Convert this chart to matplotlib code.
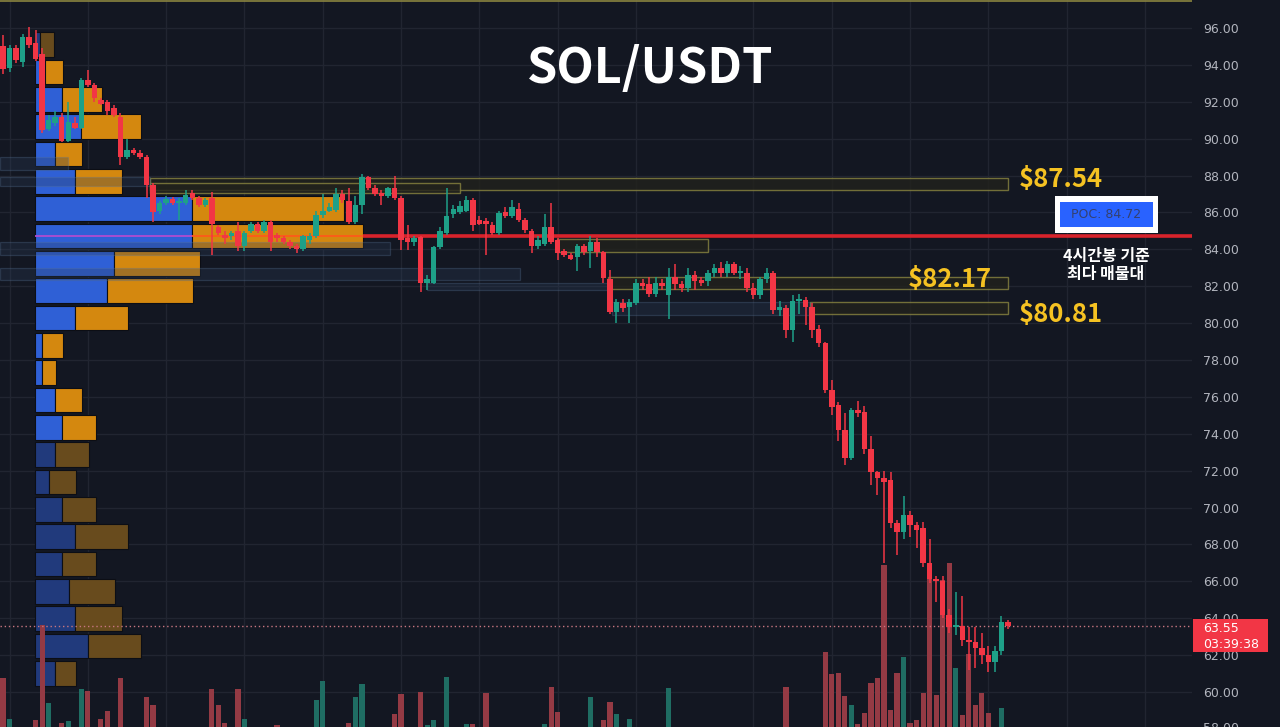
import numpy as np
import matplotlib
matplotlib.use("Agg")
import matplotlib.pyplot as plt
from matplotlib.patches import Rectangle

# ---------------- data ----------------
opens = [95.0, 93.83, 94.9, 94.15, 95.5, 95.2, 94.6, 90.5, 90.85, 91.2,
         89.9, 90.85, 90.6, 93.2, 92.9, 92.1, 92.0, 91.66, 91.2, 89.0,
         89.4, 89.2, 89.0, 87.5, 86.1, 86.5, 86.75, 86.5, 86.5, 87.05,
         86.8, 86.4, 86.8, 85.2, 84.8, 84.7, 85.0, 84.2, 85.0, 85.35,
         85.0, 85.5, 84.8, 84.6, 84.4, 84.2, 84.0, 84.5, 84.7, 85.85,
         86.1, 86.15, 87.0, 86.6, 85.5, 86.4, 87.9, 87.3, 87.05, 86.9,
         87.3, 86.8, 84.6, 84.4, 84.67, 82.2, 82.2, 84.1, 84.9, 85.9,
         86.0, 86.1, 86.7, 85.6, 85.5, 85.3, 84.9, 86.0, 85.8, 86.2,
         85.6, 85.0, 84.2, 84.3, 85.2, 84.5, 83.9, 83.7, 83.6, 84.2,
         83.9, 84.4, 83.85, 82.4, 80.6, 81.1, 80.85, 81.1, 82.2, 82.1,
         81.6, 82.2, 81.5, 82.5, 82.1, 81.9, 82.6, 82.3, 82.3, 82.7,
         83.0, 82.7, 83.2, 82.7, 82.7, 81.9, 81.5, 82.4, 82.7, 80.7,
         80.8, 79.6, 81.2, 81.25, 80.9, 79.7, 78.9, 76.4, 75.55, 74.2,
         72.7, 75.3, 75.2, 73.2, 71.9, 71.6, 71.5, 69.15, 68.7, 69.6,
         69.05, 68.9, 67.0, 66.1, 66.0, 64.2, 63.5, 63.6, 62.8, 62.7,
         62.4, 62.0, 61.6, 62.2, 63.8]
highs = [95.6, 95.1, 95.1, 95.7, 96.05, 95.9, 94.9, 91.3, 91.5, 91.4,
         92.0, 91.2, 93.3, 93.7, 93.0, 92.2, 92.1, 91.8, 91.4, 90.0,
         89.5, 89.4, 89.1, 87.6, 86.6, 86.9, 86.85, 86.8, 87.2, 87.2,
         86.9, 86.8, 87.1, 85.3, 85.0, 85.0, 85.5, 85.0, 85.5, 85.5,
         85.6, 85.6, 84.9, 84.7, 84.5, 84.3, 84.8, 84.9, 86.1, 87.0,
         86.5, 87.3, 87.2, 87.3, 86.9, 88.1, 88.0, 87.5, 87.2, 87.4,
         88.0, 86.9, 85.3, 84.7, 84.7, 82.6, 84.2, 85.2, 87.3, 86.4,
         86.6, 86.9, 86.8, 85.8, 85.7, 85.5, 86.1, 86.3, 86.7, 86.5,
         85.7, 85.1, 84.7, 85.9, 86.5, 84.6, 84.0, 83.8, 84.3, 84.3,
         84.7, 84.6, 83.9, 82.9, 81.3, 81.3, 81.3, 82.4, 82.4, 82.5,
         82.5, 82.4, 83.0, 83.2, 82.3, 83.0, 82.8, 82.5, 82.9, 83.2,
         83.3, 83.35, 83.3, 83.1, 83.0, 82.2, 82.5, 83.0, 82.8, 81.2,
         81.0, 81.5, 81.6, 81.4, 81.1, 79.9, 79.0, 76.9, 75.7, 75.1,
         75.4, 75.8, 75.5, 73.9, 72.0, 72.0, 71.9, 69.3, 70.6, 69.8,
         69.2, 69.2, 68.3, 66.3, 66.3, 64.5, 65.4, 65.2, 63.5, 63.5,
         63.2, 62.5, 62.5, 64.1, 63.9]
lows = [93.5, 93.6, 94.1, 93.9, 94.9, 94.2, 90.3, 90.4, 90.7, 89.8,
        89.8, 90.5, 90.5, 92.8, 92.0, 91.8, 91.3, 91.2, 88.6, 88.9,
        89.1, 88.9, 86.8, 85.5, 85.9, 86.4, 86.4, 85.6, 86.4, 86.7,
        86.3, 86.3, 83.7, 84.8, 84.3, 84.5, 83.9, 83.9, 84.9, 84.9,
        84.9, 83.9, 84.4, 84.3, 84.0, 83.8, 83.9, 84.3, 84.6, 85.7,
        86.0, 86.0, 86.5, 85.4, 85.4, 85.9, 87.2, 86.9, 86.4, 86.8,
        86.7, 83.96, 83.96, 84.2, 81.7, 81.8, 82.1, 84.0, 84.8, 85.7,
        85.9, 86.0, 85.0, 85.3, 83.7, 84.8, 84.8, 85.7, 85.7, 85.5,
        84.9, 83.8, 84.0, 84.2, 84.3, 83.4, 83.6, 83.4, 82.8, 83.7,
        83.0, 83.6, 82.2, 80.5, 80.0, 80.6, 80.0, 81.0, 81.8, 81.4,
        81.4, 81.8, 80.2, 81.8, 81.7, 81.7, 81.8, 82.0, 82.0, 82.5,
        82.5, 82.5, 82.6, 82.4, 81.7, 81.3, 81.3, 82.2, 80.5, 80.4,
        79.2, 79.0, 80.5, 79.9, 79.2, 78.7, 76.2, 75.0, 73.6, 72.3,
        72.6, 74.9, 72.9, 71.2, 70.7, 67.0, 68.9, 67.4, 68.3, 68.4,
        67.8, 66.8, 65.9, 64.9, 64.0, 63.2, 63.1, 62.5, 61.2, 61.3,
        61.5, 61.1, 61.1, 62.0, 63.4]
closes = [93.8, 94.9, 94.26, 95.5, 95.1, 94.3, 90.47, 91.0, 91.2, 89.9,
          90.9, 90.6, 93.2, 92.9, 92.2, 91.9, 91.5, 91.3, 89.0, 89.4,
          89.2, 89.0, 87.5, 86.0, 86.5, 86.75, 86.5, 86.6, 86.95, 86.8,
          86.4, 86.7, 85.4, 84.9, 84.6, 84.9, 84.2, 84.9, 85.4, 85.0,
          85.5, 84.4, 84.6, 84.4, 84.2, 84.0, 84.7, 84.7, 85.85, 86.1,
          86.3, 87.0, 86.65, 85.5, 86.4, 87.9, 87.3, 87.0, 86.9, 87.3,
          86.78, 84.5, 84.4, 84.6, 82.17, 82.4, 84.1, 85.0, 85.8, 86.2,
          86.35, 86.7, 85.3, 85.4, 85.4, 84.9, 85.97, 85.8, 86.3, 85.6,
          85.05, 84.2, 84.5, 85.2, 84.4, 83.8, 83.7, 83.5, 84.2, 83.85,
          84.4, 83.85, 82.45, 80.6, 81.15, 80.8, 81.15, 82.2, 82.0, 81.6,
          82.2, 82.0, 82.5, 82.1, 81.9, 82.6, 82.3, 82.2, 82.7, 83.0,
          82.7, 83.2, 82.7, 82.8, 81.9, 81.5, 82.4, 82.7, 80.7, 80.85,
          79.6, 81.2, 81.3, 80.85, 79.6, 78.9, 76.4, 75.45, 74.2, 72.7,
          75.3, 75.1, 73.2, 71.9, 71.6, 71.4, 69.15, 68.7, 69.6, 69.05,
          68.8, 67.0, 66.1, 66.0, 64.2, 63.5, 63.6, 62.8, 62.7, 62.4,
          62.0, 61.6, 62.2, 63.8, 63.55]
volumes = [62, 21, 8, 9, 7, 20, 115, 37, 10, 17,
           19, 8, 51, 49, 9, 21, 29, 10, 62, 9,
           7, 8, 43, 35, 9, 7, 6, 8, 9, 7,
           8, 6, 51, 35, 17, 8, 51, 21, 9, 7,
           8, 10, 15, 7, 6, 8, 9, 7, 40, 59,
           9, 10, 8, 17, 43, 56, 10, 8, 7, 9,
           26, 46, 11, 8, 48, 15, 20, 10, 63, 9,
           8, 16, 16, 9, 47, 8, 10, 7, 8, 9,
           8, 10, 7, 16, 53, 28, 8, 7, 10, 8,
           43, 9, 20, 38, 26, 9, 21, 11, 8, 7,
           9, 6, 52, 10, 7, 9, 8, 6, 7, 9,
           7, 10, 8, 6, 11, 9, 8, 7, 12, 9,
           53, 11, 10, 9, 12, 11, 88, 66, 67, 44,
           35, 16, 27, 57, 62, 175, 30, 67, 83, 17,
           20, 47, 172, 45, 160, 177, 72, 25, 86, 35,
           47, 27, 12, 32, 10]

price_ticks = [60, 62, 64, 66, 68, 70, 72, 74, 76, 78, 80, 82, 84, 86, 88, 90, 92, 94, 96]
grid_idx = [1, 13, 25, 37, 49, 61, 73, 85, 97, 115, 127, 139, 151, 163, 175]

# volume profile (up volume, down volume) per price row, top to bottom
prof_top = 95.835
prof_step = 1.482
prof_up = [5, 10, 27, 46, 20, 40, 157, 157, 79, 72, 40, 7, 7, 20, 27, 20, 14, 27, 40, 27, 34, 40, 53, 20]
prof_down = [14, 18, 40, 60, 27, 47, 152, 171, 86, 86, 53, 21, 14, 27, 34, 34, 27, 34, 53, 34, 46, 47, 53, 21]
prof_in_va = [0, 1, 1, 1, 1, 1, 1, 1, 1, 1, 1, 1, 1, 1, 1, 0, 0, 0, 0, 0, 0, 0, 0, 0]

title = "SOL/USDT"
poc_price = 84.72
levels = [87.54, 82.17, 80.81]
last_price = 63.55
countdown = "03:39:38"
note_lines = ["4시간봉 기준", "최다 매물대"]

# zones: (x_start_idx, x_end_idx, low, high)
yellow_zones = [(22.5, 154.0, 87.21, 87.87), (22.5, 70.0, 87.05, 87.6),
                (92.7, 154.0, 81.85, 82.5), (123.7, 154.0, 80.48, 81.14),
                (84.9, 108.0, 83.85, 84.56)]
blue_zones = [(-0.5, 10.0, 88.3, 89.0), (-0.5, 22.5, 87.43, 87.93),
              (-0.5, 59.3, 83.7, 84.4), (-0.5, 79.2, 82.34, 82.99),
              (65.0, 93.0, 81.78, 82.2), (93.3, 123.7, 80.44, 81.14)]

# ---------------- style ----------------
BG = "#131722"
GRID = "#212531"
GREEN = "#1ea088"
RED = "#f23645"
VGREEN = "#1f6d63"
VRED = "#943a44"
YEL = "#f5c222"
FW, FH = 1280, 727

fig = plt.figure(figsize=(12.8, 7.27), dpi=100, facecolor=BG)
pos = [0, 0, 1192 / FW, 1]
XL = (-0.46, 182.2)
YL = (58.10, 97.52)


def P(x, y):
    return x / FW, 1 - y / FH


ax_bg = fig.add_axes(pos)
ax_bg.set_facecolor(BG)
ax_bg.set_xlim(XL); ax_bg.set_ylim(YL); ax_bg.set_axis_off()
for t in price_ticks:
    ax_bg.axhline(t, color=GRID, lw=1, zorder=0)
for g in grid_idx:
    ax_bg.axvline(g, color=GRID, lw=1, zorder=0)

# volume profile
ax_prof = fig.add_axes(pos)
ax_prof.patch.set_alpha(0)
ax_prof.set_xlim(-35, 1157); ax_prof.set_ylim(YL); ax_prof.set_axis_off()
centers = prof_top - (np.arange(len(prof_up)) + 0.5) * prof_step
for yc, u, d, va in zip(centers, prof_up, prof_down, prof_in_va):
    cu = "#2f60d6" if va else "#213a7c"
    cd = "#d4880f" if va else "#684b1d"
    ax_prof.barh(yc, u, left=0, height=prof_step * 0.9, color=cu,
                 edgecolor="#0c0e15", linewidth=0.8)
    ax_prof.barh(yc, d, left=u, height=prof_step * 0.9, color=cd,
                 edgecolor="#0c0e15", linewidth=0.8)
ipoc = int(np.argmin(np.abs(centers - poc_price)))
ax_prof.hlines(poc_price, 0, prof_up[ipoc], color="#b04cd0", lw=1.3)
ax_prof.hlines(poc_price, prof_up[ipoc], prof_up[ipoc] + prof_down[ipoc], color="#ff5a1a", lw=1.3)
ax_prof.hlines(poc_price, prof_up[ipoc] + prof_down[ipoc], 1157, color="#d8232b", lw=2.6)

# volume bars
ax_vol = fig.add_axes(pos)
ax_vol.patch.set_alpha(0)
ax_vol.set_xlim(XL); ax_vol.set_ylim(13, 740); ax_vol.set_axis_off()
o = np.array(opens); h = np.array(highs); l = np.array(lows); c = np.array(closes)
x = np.arange(len(o))
up = c >= o
ax_vol.bar(x, volumes, width=0.8, color=np.where(up, VGREEN, VRED), linewidth=0)

# main price axes
ax = fig.add_axes(pos)
ax.patch.set_alpha(0)
ax.set_xlim(XL); ax.set_ylim(YL)
for s in ax.spines.values():
    s.set_visible(False)
ax.set_xticks([])
ax.yaxis.tick_right()
ax.set_yticks(price_ticks)
ax.set_yticklabels([f"{t:.2f}" for t in price_ticks])
ax.tick_params(axis="y", length=0, pad=8, labelsize=9, labelcolor="#b2b5be")

# top line
ax.axhline(97.45, color="#8a8540", lw=1.2, zorder=1)
for x0, x1, lo, hi in yellow_zones:
    ax.add_patch(Rectangle((x0, lo), x1 - x0, hi - lo, facecolor="#22221c", alpha=0.8,
                           edgecolor="#8a8540", lw=1.0, zorder=1))
for x0, x1, lo, hi in blue_zones:
    ax.add_patch(Rectangle((x0, lo), x1 - x0, hi - lo, facecolor="#2c3e5a", alpha=0.3,
                           edgecolor="#5a7799", lw=0.9, zorder=1))

# last price dotted line
ax.axhline(last_price, color="#c87680", lw=1, ls=(0, (1, 2)), zorder=2)

# candles
cols = np.where(up, GREEN, RED)
ax.vlines(x, l, h, colors=cols, lw=1.1, zorder=4)
bb = np.minimum(o, c)
bh = np.maximum(np.abs(c - o), 0.12)
ax.bar(x, bh, bottom=bb, width=0.84, color=cols, linewidth=0, zorder=5)

# ---------------- texts ----------------
KR = ["Noto Sans CJK KR", "DejaVu Sans"]
fig.text(*P(650, 68), title, color="white", fontsize=35, fontweight="bold",
         ha="center", va="center", family=KR)

lvl_pos = [(1019, 179), (908, 279), (1019, 315)]
for v, (px, py) in zip(levels, lvl_pos):
    fig.text(*P(px, py), f"${v:.2f}", color=YEL, fontsize=18.5, fontweight="bold",
             ha="left", va="center", family=KR)

# POC box
fig.patches.append(Rectangle(P(1055, 233), 103 / FW, 37 / FH, transform=fig.transFigure,
                             facecolor="white", edgecolor="none", zorder=10))
fig.patches.append(Rectangle(P(1060, 227), 93 / FW, 25 / FH, transform=fig.transFigure,
                             facecolor="#2962ff", edgecolor="none", zorder=11))
fig.text(*P(1106, 215), f"POC: {poc_price:.2f}", color="#34406e", fontsize=9,
         ha="center", va="center", zorder=12)
fig.text(*P(1106, 256), note_lines[0], color="white", fontsize=11.5, fontweight="bold",
         ha="center", va="center", family=KR)
fig.text(*P(1106, 274), note_lines[1], color="white", fontsize=11.5, fontweight="bold",
         ha="center", va="center", family=KR)

# last price label
fig.patches.append(Rectangle(P(1193, 652), 75 / FW, 33 / FH, transform=fig.transFigure,
                             facecolor=RED, edgecolor="none", zorder=10))
fig.text(*P(1203, 628), f"{last_price:.2f}", color="white", fontsize=9, ha="left", va="center", zorder=12)
fig.text(*P(1203, 644), countdown, color="white", fontsize=9, ha="left", va="center", zorder=12)
fig.text(*P(1203, 729), "58.00", color="#b2b5be", fontsize=9, ha="left", va="center")

fig.savefig("out.png", dpi=100, facecolor=BG)
